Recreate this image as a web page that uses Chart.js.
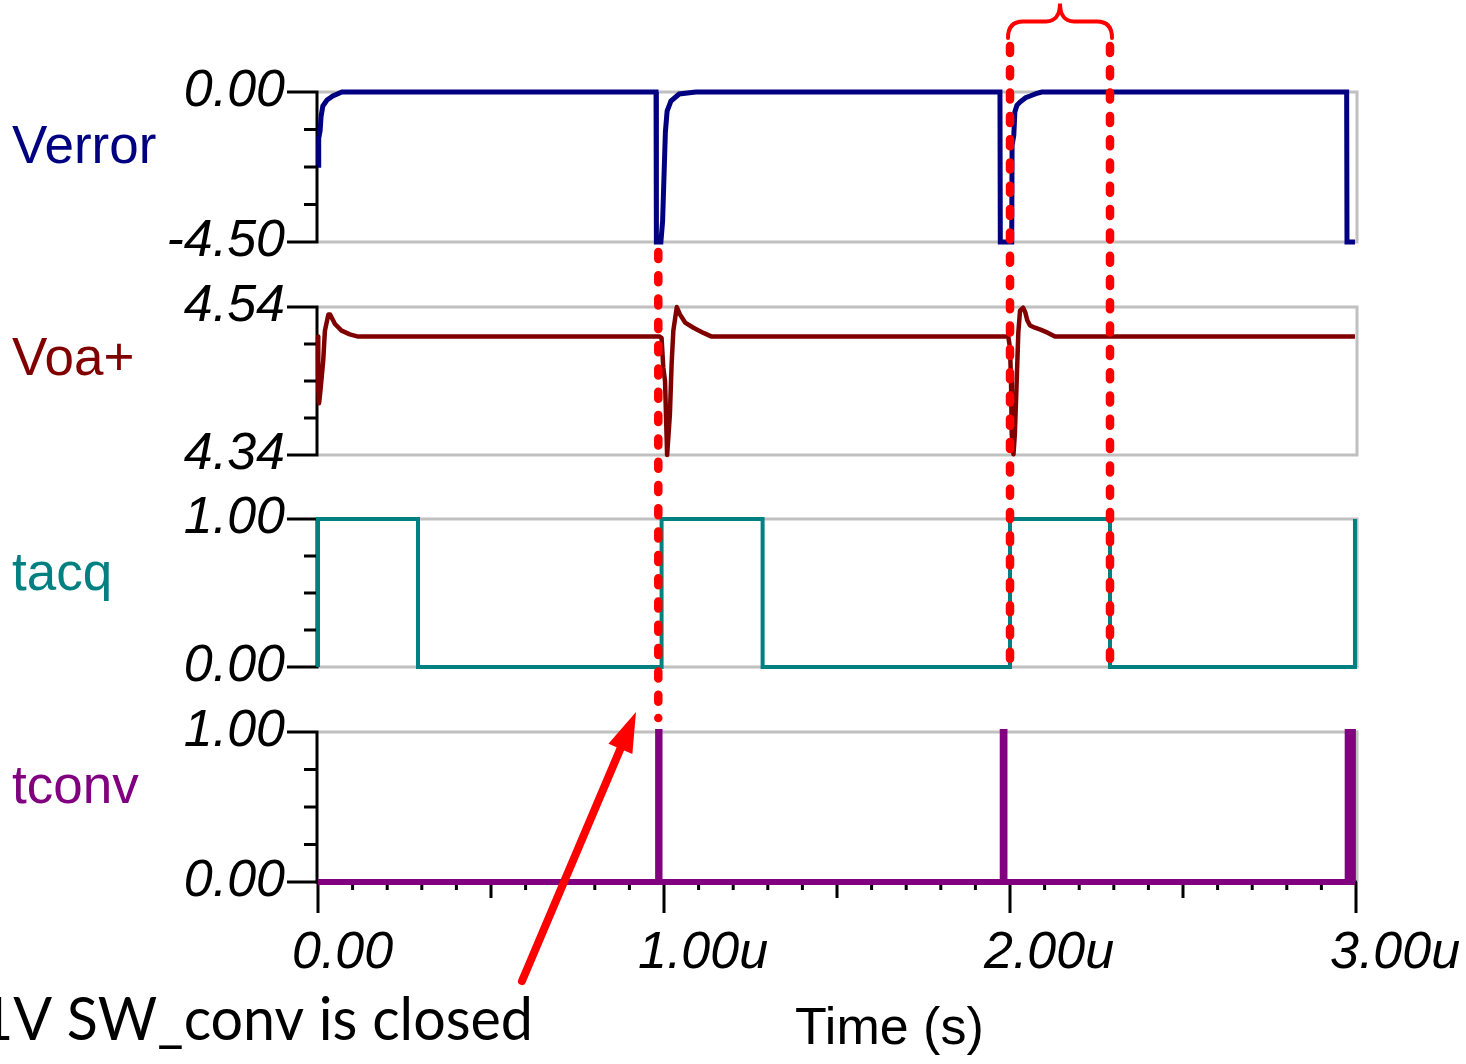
<!DOCTYPE html>
<html>
<head>
<meta charset="utf-8">
<script src="https://cdn.jsdelivr.net/npm/chart.js@4.4.1/dist/chart.umd.min.js"></script>
<style>
html,body{margin:0;padding:0;background:#fff;overflow:hidden}
#wrap{position:relative;width:1466px;height:1064px;background:#fff}
#wrap canvas{position:absolute;left:0;top:0}
</style>
</head>
<body>
<div id="wrap">
<canvas id="c0" width="1466" height="1064"></canvas>
<canvas id="c1" width="1466" height="1064"></canvas>
<canvas id="c2" width="1466" height="1064"></canvas>
<canvas id="c3" width="1466" height="1064"></canvas>
</div>
<script>
// ---------------- DATA (time in microseconds) ----------------
const xTickValues = [0, 1, 2, 3];
const xTickLabels = ['0.00', '1.00u', '2.00u', '3.00u'];
const seriesNames = ['Verror', 'Voa+', 'tacq', 'tconv'];

const verrorT = [0, 0.002, 0.006, 0.009, 0.014, 0.026, 0.043, 0.069,
  0.977, 0.978, 0.991, 0.996, 1.004, 1.009, 1.020, 1.044, 1.092,
  1.971, 1.972, 2.005, 2.006, 2.011, 2.014, 2.020, 2.029, 2.045, 2.058, 2.075, 2.092,
  2.973, 2.974, 2.997];
const verrorV = [-2.2, -1.4, -1.17, -0.72, -0.42, -0.24, -0.12, 0,
  0, -4.5, -4.5, -3.87, -1.2, -0.57, -0.27, -0.06, 0,
  0, -4.5, -4.5, -1.6, -1.3, -0.6, -0.4, -0.3, -0.17, -0.12, -0.05, 0,
  0, -4.5, -4.5];
const verrorTicks = [-4.5, 0];
const verrorTickLabels = ['-4.50', '0.00'];

const voaT = [0, 0.0005, 0.001, 0.003, 0.006, 0.015, 0.020, 0.030, 0.035, 0.049, 0.068, 0.092, 0.116,
  0.988, 0.993, 0.998, 1.003, 1.006, 1.009, 1.012, 1.017, 1.022, 1.027, 1.037, 1.046, 1.061, 1.085, 1.114, 1.138,
  1.995, 2.000, 2.003, 2.005, 2.010, 2.014, 2.019, 2.024, 2.029, 2.038, 2.044, 2.050, 2.058, 2.072, 2.090, 2.110, 2.130,
  2.997];
const voaV = [4.50, 4.46, 4.43, 4.41, 4.422, 4.467, 4.508, 4.53, 4.53, 4.517, 4.508, 4.503, 4.50,
  4.50, 4.498, 4.458, 4.44, 4.39, 4.34, 4.36, 4.395, 4.463, 4.508, 4.54, 4.53, 4.519, 4.512, 4.505, 4.50,
  4.50, 4.485, 4.44, 4.368, 4.341, 4.368, 4.435, 4.505, 4.535, 4.539, 4.533, 4.522, 4.515, 4.512, 4.509, 4.505, 4.50,
  4.50];
const voaTicks = [4.34, 4.54];
const voaTickLabels = ['4.34', '4.54'];

const tacqT = [0, 0, 0.289, 0.289, 0.993, 0.993, 1.285, 1.285, 2.0, 2.0, 2.289, 2.289, 2.997, 2.997];
const tacqV = [0, 1, 1, 0, 0, 1, 1, 0, 0, 1, 1, 0, 0, 1];
const tacqTicks = [0, 1];
const tacqTickLabels = ['0.00', '1.00'];

const tconvT = [0, 0.983, 0.983, 0.987, 0.987, 1.979, 1.979, 1.984, 1.984, 2.976, 2.976, 2.991, 2.991, 2.997];
const tconvV = [0, 0, 1, 1, 0, 0, 1, 1, 0, 0, 1, 1, 0, 0];
const tconvTicks = [0, 1];
const tconvTickLabels = ['0.00', '1.00'];

// annotation: dotted marker times
const annoLineT = [0.9835, 2.0, 2.289];
const annoText = '1V SW_conv is closed';
const xTitle = 'Time (s)';

// ---------------- LAYOUT / STYLE ----------------
const W = 1466, H = 1064;
const PLOT_LEFT = 318, PLOT_RIGHT = 1356;
const XAXIS_H = 120;
const GRAY = '#c0c0c0';
const TICK_FONT = {family: 'Liberation Sans', size: 52, style: 'italic'};

const panels = [
  {name: seriesNames[0], color: '#000080', width: 5, join: 'miter', T: verrorT, V: verrorV, ticks: verrorTicks, labels: verrorTickLabels, top: 92, bottom: 242, nameY: 163},
  {name: seriesNames[1], color: '#800000', width: 4.5, join: 'round', T: voaT, V: voaV, ticks: voaTicks, labels: voaTickLabels, top: 307, bottom: 455, nameY: 375},
  {name: seriesNames[2], color: '#008080', width: 4, join: 'miter', T: tacqT, V: tacqV, ticks: tacqTicks, labels: tacqTickLabels, top: 519, bottom: 667, nameY: 590},
  {name: seriesNames[3], color: '#800080', width: 6, join: 'miter', T: tconvT, V: tconvV, ticks: tconvTicks, labels: tconvTickLabels, top: 732, bottom: 882, nameY: 803}
];

const framePlugin = {
  id: 'frame',
  beforeDatasetsDraw(chart, args, opts) {
    const {ctx} = chart;
    const x = chart.scales.x, y = chart.scales.y;
    const xL = x.getPixelForValue(x.min), xR = x.getPixelForValue(x.max);
    const yT = y.getPixelForValue(y.max), yB = y.getPixelForValue(y.min);
    ctx.save();
    ctx.lineWidth = 3;
    ctx.strokeStyle = GRAY;
    ctx.beginPath();
    ctx.moveTo(xL, yT); ctx.lineTo(xR + 1, yT); ctx.lineTo(xR + 1, yB);
    if (!opts.bottom) ctx.lineTo(xL, yB);
    ctx.stroke();
    ctx.strokeStyle = '#000';
    ctx.lineWidth = 3;
    ctx.beginPath();
    ctx.moveTo(xL - 1, yT - 1.5); ctx.lineTo(xL - 1, yB + 1.5);
    for (let k = 0; k <= 4; k++) {
      const py = y.getPixelForValue(y.min + (y.max - y.min) * k / 4);
      const len = (k === 0 || k === 4) ? 30 : 13;
      ctx.moveTo(xL - 1 - len, py); ctx.lineTo(xL - 1, py);
    }
    ctx.stroke();
    if (opts.bottom) {
      ctx.beginPath();
      ctx.moveTo(xL - 2.5, yB); ctx.lineTo(xR + 1, yB);
      for (let i = 0; i <= 30; i++) {
        const px = x.getPixelForValue(i / 10);
        const len = (i % 10 === 0) ? 31 : (i % 5 === 0 ? 16 : 8);
        ctx.moveTo(px, yB); ctx.lineTo(px, yB + len);
      }
      ctx.stroke();
    }
    ctx.restore();
  }
};

const namePlugin = {
  id: 'seriesName',
  afterDraw(chart, args, opts) {
    const {ctx} = chart;
    ctx.save();
    ctx.font = '53px "Liberation Sans"';
    ctx.fillStyle = opts.color;
    ctx.textAlign = 'left';
    ctx.textBaseline = 'alphabetic';
    ctx.fillText(opts.text, 12, opts.y);
    ctx.restore();
  }
};

const annoPlugin = {
  id: 'anno',
  afterDraw(chart) {
    const {ctx} = chart;
    const x = chart.scales.x;
    ctx.save();
    // x title
    ctx.font = '52px "Liberation Sans"';
    ctx.fillStyle = '#000';
    ctx.textAlign = 'left';
    ctx.textBaseline = 'alphabetic';
    ctx.fillText(xTitle, 795, 1044);
    // annotation text (cut at left edge)
    ctx.font = '60px Lato';
    const tw = ctx.measureText(annoText).width;
    const targetW = 553;
    ctx.save();
    ctx.translate(533, 1040);
    ctx.scale(targetW / tw, 1);
    ctx.textAlign = 'right';
    ctx.fillText(annoText, 0, 0);
    ctx.restore();

    // dotted red lines
    const red = '#ff0000';
    const ranges = [[252, 718], [46, 664], [46, 664]];
    ctx.strokeStyle = red;
    ctx.lineWidth = 8.5;
    ctx.lineCap = 'round';
    ctx.setLineDash([7, 16.3]);
    annoLineT.forEach((t, i) => {
      const px = x.getPixelForValue(t);
      ctx.beginPath();
      ctx.moveTo(px, ranges[i][0]);
      ctx.lineTo(px, ranges[i][1]);
      ctx.stroke();
    });
    ctx.setLineDash([]);

    // brace
    const bL = x.getPixelForValue(annoLineT[1]) - 2;
    const bR = x.getPixelForValue(annoLineT[2]) + 2;
    const mid = (bL + bR) / 2;
    ctx.lineWidth = 4;
    ctx.lineCap = 'round';
    ctx.beginPath();
    ctx.moveTo(bL, 38);
    ctx.bezierCurveTo(bL, 27, bL + 5, 21.5, bL + 15, 21.5);
    ctx.lineTo(mid - 14, 21.5);
    ctx.bezierCurveTo(mid - 5, 21.5, mid, 15, mid, 3.5);
    ctx.bezierCurveTo(mid, 15, mid + 5, 21.5, mid + 14, 21.5);
    ctx.lineTo(bR - 15, 21.5);
    ctx.bezierCurveTo(bR - 5, 21.5, bR, 27, bR, 38);
    ctx.stroke();

    // arrow
    const tail = [522, 981], tip = [636, 712];
    const dx = tip[0] - tail[0], dy = tip[1] - tail[1];
    const L = Math.hypot(dx, dy), ux = dx / L, uy = dy / L;
    const headLen = 40, headHalf = 13;
    const bx = tip[0] - ux * headLen, by = tip[1] - uy * headLen;
    ctx.lineWidth = 8;
    ctx.lineCap = 'round';
    ctx.beginPath();
    ctx.moveTo(tail[0], tail[1]);
    ctx.lineTo(bx + ux * 4, by + uy * 4);
    ctx.stroke();
    ctx.fillStyle = red;
    ctx.beginPath();
    ctx.moveTo(tip[0], tip[1]);
    ctx.lineTo(bx - uy * headHalf, by + ux * headHalf);
    ctx.lineTo(bx + uy * headHalf, by - ux * headHalf);
    ctx.closePath();
    ctx.fill();
    ctx.restore();
  }
};

panels.forEach((p, idx) => {
  const isBottom = idx === panels.length - 1;
  const plugins = [framePlugin, namePlugin];
  if (isBottom) plugins.push(annoPlugin);
  new Chart(document.getElementById('c' + idx), {
    type: 'line',
    data: {
      datasets: [{
        data: p.T.map((t, i) => ({x: t, y: p.V[i]})),
        borderColor: p.color,
        borderWidth: p.width,
        borderJoinStyle: p.join,
        pointRadius: 0,
        tension: 0,
        fill: false,
        clip: 14
      }]
    },
    options: {
      responsive: false,
      animation: false,
      devicePixelRatio: 1,
      events: [],
      layout: {
        padding: {
          left: 0,
          right: W - PLOT_RIGHT,
          top: p.top,
          bottom: isBottom ? H - p.bottom - XAXIS_H : H - p.bottom
        }
      },
      plugins: {
        legend: {display: false},
        tooltip: {enabled: false},
        frame: {bottom: isBottom},
        seriesName: {text: p.name, color: p.color, y: p.nameY}
      },
      scales: {
        x: {
          type: 'linear',
          min: 0,
          max: 3,
          display: isBottom,
          afterBuildTicks: s => { s.ticks = xTickValues.map(v => ({value: v})); },
          afterFit: s => {
            s.height = isBottom ? XAXIS_H : 0;
            s.paddingLeft = 0; s.paddingRight = 0;
          },
          grid: {display: false, drawTicks: false},
          border: {display: false},
          ticks: {
            autoSkip: false, maxRotation: 0, minRotation: 0,
            align: 'start', labelOffset: -26, padding: 40,
            color: '#000', font: TICK_FONT,
            callback: (v, i) => xTickLabels[i]
          }
        },
        y: {
          type: 'linear',
          min: p.ticks[0],
          max: p.ticks[1],
          afterBuildTicks: s => { s.ticks = p.ticks.map(v => ({value: v})); },
          afterFit: s => { s.width = PLOT_LEFT; s.paddingTop = 0; s.paddingBottom = 0; },
          grid: {display: false, drawTicks: false},
          border: {display: false},
          ticks: {
            autoSkip: false, padding: 33,
            color: '#000', font: TICK_FONT,
            callback: (v, i) => p.labels[i]
          }
        }
      }
    },
    plugins: plugins
  });
});
</script>
</body>
</html>
